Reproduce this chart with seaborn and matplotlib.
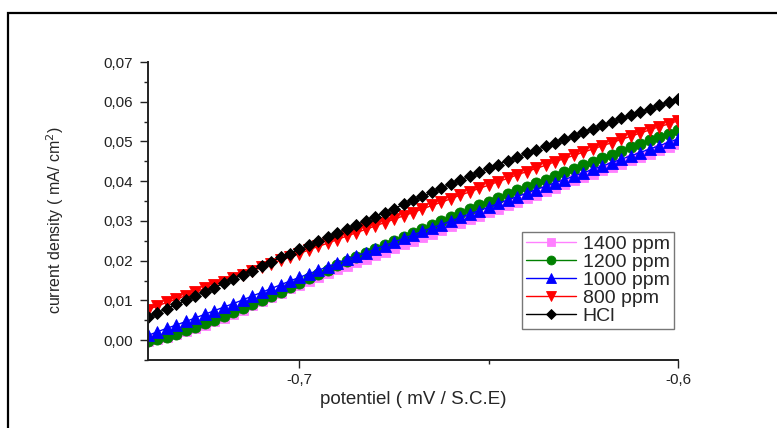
import numpy as np
import pandas as pd
import matplotlib
matplotlib.use("Agg")
import matplotlib.pyplot as plt
import seaborn as sns
from matplotlib.patches import Rectangle
from matplotlib.ticker import MultipleLocator, FuncFormatter

# ---- data ----
potential = [-0.74, -0.7375, -0.735, -0.7325, -0.73, -0.7275, -0.725, -0.7225, -0.72,
             -0.7175, -0.715, -0.7125, -0.71, -0.7075, -0.705, -0.7025, -0.70,
             -0.6975, -0.695, -0.6925, -0.69, -0.6875, -0.685, -0.6825, -0.68,
             -0.6775, -0.675, -0.6725, -0.67, -0.6675, -0.665, -0.6625, -0.66,
             -0.6575, -0.655, -0.6525, -0.65, -0.6475, -0.645, -0.6425, -0.64,
             -0.6375, -0.635, -0.6325, -0.63, -0.6275, -0.625, -0.6225, -0.62,
             -0.6175, -0.615, -0.6125, -0.61, -0.6075, -0.605, -0.6025, -0.60]

hcl = [0.0058, 0.0069, 0.0079, 0.0090, 0.0100,
       0.0111, 0.0122, 0.0132, 0.0143,
       0.0154, 0.0165, 0.0175, 0.0186,
       0.0197, 0.0208, 0.0218, 0.0229,
       0.0239, 0.0249, 0.0260, 0.0270,
       0.0280, 0.0290, 0.0301, 0.0311,
       0.0321, 0.0331, 0.0342, 0.0352,
       0.0362, 0.0372, 0.0383, 0.0393,
       0.0403, 0.0413, 0.0423, 0.0433,
       0.0442, 0.0452, 0.0461, 0.0470,
       0.0479, 0.0488, 0.0497, 0.0506,
       0.0515, 0.0524, 0.0532, 0.0541,
       0.0549, 0.0558, 0.0566, 0.0574,
       0.0582, 0.0591, 0.0599, 0.0607]

ppm800 = [0.0077, 0.0086, 0.0095, 0.0103, 0.0112,
          0.0121, 0.0130, 0.0138, 0.0147,
          0.0156, 0.0165, 0.0174, 0.0183,
          0.0192, 0.0201, 0.0209, 0.0218,
          0.0227, 0.0236, 0.0244, 0.0253,
          0.0262, 0.0270, 0.0279, 0.0287,
          0.0296, 0.0304, 0.0313, 0.0321,
          0.0330, 0.0339, 0.0347, 0.0356,
          0.0365, 0.0373, 0.0382, 0.0390,
          0.0399, 0.0407, 0.0416, 0.0424,
          0.0432, 0.0440, 0.0449, 0.0457,
          0.0465, 0.0473, 0.0481, 0.0489,
          0.0497, 0.0505, 0.0513, 0.0521,
          0.0529, 0.0537, 0.0544, 0.0552]

ppm1000 = [0.0012, 0.0021, 0.0030, 0.0038, 0.0047,
           0.0056, 0.0065, 0.0074, 0.0083,
           0.0092, 0.0101, 0.0111, 0.0120,
           0.0130, 0.0139, 0.0149, 0.0158,
           0.0167, 0.0176, 0.0185, 0.0194,
           0.0203, 0.0212, 0.0220, 0.0229,
           0.0238, 0.0247, 0.0256, 0.0265,
           0.0274, 0.0283, 0.0291, 0.0300,
           0.0309, 0.0318, 0.0326, 0.0335,
           0.0344, 0.0353, 0.0361, 0.0370,
           0.0379, 0.0387, 0.0396, 0.0404,
           0.0413, 0.0421, 0.0430, 0.0438,
           0.0447, 0.0455, 0.0464, 0.0472,
           0.0481, 0.0489, 0.0498, 0.0506]

ppm1200 = [-0.0002, 0.0003, 0.0009, 0.0016, 0.0025,
           0.0033, 0.0042, 0.0051, 0.0060,
           0.0070, 0.0080, 0.0090, 0.0100,
           0.0111, 0.0122, 0.0134, 0.0145,
           0.0156, 0.0167, 0.0177, 0.0188,
           0.0199, 0.0209, 0.0220, 0.0230,
           0.0240, 0.0250, 0.0260, 0.0270,
           0.0280, 0.0290, 0.0300, 0.0310,
           0.0320, 0.0329, 0.0339, 0.0348,
           0.0358, 0.0367, 0.0377, 0.0386,
           0.0395, 0.0404, 0.0413, 0.0422,
           0.0431, 0.0440, 0.0449, 0.0458,
           0.0467, 0.0476, 0.0485, 0.0494,
           0.0503, 0.0512, 0.0520, 0.0529]

ppm1400 = [-0.0003, 0.0002, 0.0008, 0.0015, 0.0022,
           0.0030, 0.0039, 0.0047, 0.0056,
           0.0067, 0.0077, 0.0088, 0.0098,
           0.0109, 0.0119, 0.0130, 0.0140,
           0.0150, 0.0159, 0.0169, 0.0178,
           0.0187, 0.0196, 0.0205, 0.0214,
           0.0223, 0.0232, 0.0241, 0.0250,
           0.0259, 0.0268, 0.0277, 0.0286,
           0.0295, 0.0304, 0.0313, 0.0322,
           0.0331, 0.0340, 0.0348, 0.0357,
           0.0366, 0.0375, 0.0384, 0.0393,
           0.0402, 0.0410, 0.0419, 0.0427,
           0.0436, 0.0444, 0.0453, 0.0461,
           0.0469, 0.0478, 0.0486, 0.0494]

labels = ["1400 ppm", "1200 ppm", "1000 ppm", "800 ppm", "HCl"]
series = [ppm1400, ppm1200, ppm1000, ppm800, hcl]
colors = ["#FF80FF", "#008000", "#0000FF", "#FF0000", "#000000"]
markers = ["s", "o", "^", "v", "D"]
msizes = [7.5, 8, 8.5, 8.5, 6.5]

# ---- figure ----
sns.set_theme(style="ticks")
plt.rcParams["font.family"] = ["Liberation Sans", "DejaVu Sans"]

fig = plt.figure(figsize=(7.77, 4.28), dpi=100)
ax = fig.add_axes([148 / 777, 1 - 360 / 428, 530 / 777, 298 / 428])

for lab, ys, col, mk, ms in zip(labels, series, colors, markers, msizes):
    sns.lineplot(x=potential, y=ys, ax=ax, color=col, marker=mk, markersize=ms,
                 markeredgecolor=col, markeredgewidth=0.6, linewidth=1.0,
                 label=lab, estimator=None, sort=False)

ax.set_xlim(-0.74, -0.60)
ax.set_ylim(-0.005, 0.07)

ax.xaxis.set_major_locator(MultipleLocator(0.1))
ax.xaxis.set_minor_locator(MultipleLocator(0.05))
ax.yaxis.set_major_locator(MultipleLocator(0.01))
ax.yaxis.set_minor_locator(MultipleLocator(0.005))

ax.xaxis.set_major_formatter(FuncFormatter(lambda v, p: ("%.1f" % v).replace(".", ",")))
ax.yaxis.set_major_formatter(FuncFormatter(lambda v, p: ("%.2f" % v).replace(".", ",")))

for s in ["top", "right"]:
    ax.spines[s].set_visible(False)
for s in ["left", "bottom"]:
    ax.spines[s].set_linewidth(1.4)
    ax.spines[s].set_color("#222222")

ax.tick_params(axis="both", which="major", direction="out", length=6, width=1,
               labelsize=11, colors="#222222")
ax.tick_params(axis="y", which="major", pad=5)
ax.tick_params(axis="x", which="major", pad=3)
ax.tick_params(axis="both", which="minor", direction="out", length=3, width=1,
               colors="#222222")

ax.set_xlabel("potentiel ( mV / S.C.E)", fontsize=13.5)
ax.set_ylabel("current density ( mA/ cm$^{2}$)", fontsize=11.5)
ax.xaxis.set_label_coords(0.5, -0.105)
ax.yaxis.set_label_coords(-0.155, 0.47)

leg = ax.legend(loc="lower right", bbox_to_anchor=(0.992, 0.104), fontsize=14,
                frameon=True, fancybox=False, edgecolor="#555555",
                handlelength=2.6, labelspacing=0.02, borderpad=0.2,
                handletextpad=0.35, borderaxespad=0, markerscale=0.8)
leg.get_frame().set_linewidth(1.0)

# outer frame of the original figure (top and left edges visible)
fig.patches.append(Rectangle((8 / 777, -0.2), 1.2, (1 - 13 / 428) + 0.2,
                             transform=fig.transFigure, fill=False,
                             edgecolor="black", linewidth=1.6))

fig.savefig("out.png", dpi=100)
